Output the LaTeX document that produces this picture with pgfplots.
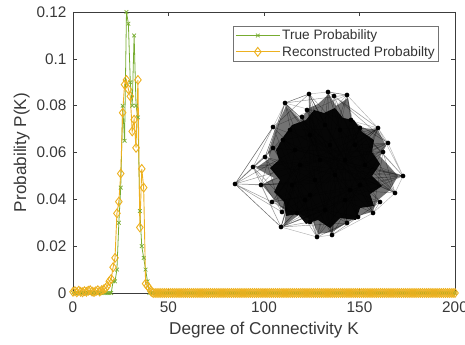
\documentclass[border=0pt]{standalone}
\usepackage{pgfplots}
\pgfplotsset{compat=1.18}
\usepackage{pgfplotstable}
\usepackage{fontspec}
\setmainfont{Liberation Sans}
\definecolor{mgreen}{RGB}{119,172,48}
\definecolor{myellow}{RGB}{237,177,32}
\definecolor{axgray}{RGB}{60,60,60}

\pgfplotstableread[row sep=\\]{
K T R\\
0 0 0.0005\\ 1 0 0.0008\\ 2 0 0.0003\\ 3 0 0.0010\\ 4 0 0.0005\\ 5 0 0.0003\\ 6 0 0.0008\\ 7 0 0.0005\\ 8 0 0.0010\\ 9 0 0.0012\\
10 0 0.0006\\ 11 0 0.0004\\ 12 0 0.0008\\ 13 0 0.0012\\ 14 0 0.0006\\ 15 0 0.0012\\ 16 0 0.0015\\ 17 0 0.0020\\ 18 0 0.0030\\ 19 0 0.0050\\
20 0 0.0060\\ 21 0.005 0.011\\ 22 0.005 0.015\\ 23 0.010 0.034\\ 24 0.030 0.039\\ 25 0.045 0.051\\ 26 0.080 0.077\\ 27 0.065 0.089\\ 28 0.120 0.091\\ 29 0.115 0.087\\
30 0.090 0.084\\ 31 0.080 0.069\\ 32 0.110 0.074\\ 33 0.080 0.062\\ 34 0.075 0.091\\ 35 0.035 0.028\\ 36 0.020 0.053\\ 37 0.015 0.045\\ 38 0.010 0.004\\ 39 0.005 0.003\\
40 0 0.002\\ 41 0 0.0005\\ 42 0 0\\ 43 0 0\\ 44 0 0\\ 45 0 0\\ 46 0 0\\ 47 0 0\\ 48 0 0\\ 49 0 0\\
50 0 0\\ 51 0 0\\ 52 0 0\\ 53 0 0\\ 54 0 0\\ 55 0 0\\ 56 0 0\\ 57 0 0\\ 58 0 0\\ 59 0 0\\
60 0 0\\ 61 0 0\\ 62 0 0\\ 63 0 0\\ 64 0 0\\ 65 0 0\\ 66 0 0\\ 67 0 0\\ 68 0 0\\ 69 0 0\\
70 0 0\\ 71 0 0\\ 72 0 0\\ 73 0 0\\ 74 0 0\\ 75 0 0\\ 76 0 0\\ 77 0 0\\ 78 0 0\\ 79 0 0\\
80 0 0\\ 81 0 0\\ 82 0 0\\ 83 0 0\\ 84 0 0\\ 85 0 0\\ 86 0 0\\ 87 0 0\\ 88 0 0\\ 89 0 0\\
90 0 0\\ 91 0 0\\ 92 0 0\\ 93 0 0\\ 94 0 0\\ 95 0 0\\ 96 0 0\\ 97 0 0\\ 98 0 0\\ 99 0 0\\
100 0 0\\ 101 0 0\\ 102 0 0\\ 103 0 0\\ 104 0 0\\ 105 0 0\\ 106 0 0\\ 107 0 0\\ 108 0 0\\ 109 0 0\\
110 0 0\\ 111 0 0\\ 112 0 0\\ 113 0 0\\ 114 0 0\\ 115 0 0\\ 116 0 0\\ 117 0 0\\ 118 0 0\\ 119 0 0\\
120 0 0\\ 121 0 0\\ 122 0 0\\ 123 0 0\\ 124 0 0\\ 125 0 0\\ 126 0 0\\ 127 0 0\\ 128 0 0\\ 129 0 0\\
130 0 0\\ 131 0 0\\ 132 0 0\\ 133 0 0\\ 134 0 0\\ 135 0 0\\ 136 0 0\\ 137 0 0\\ 138 0 0\\ 139 0 0\\
140 0 0\\ 141 0 0\\ 142 0 0\\ 143 0 0\\ 144 0 0\\ 145 0 0\\ 146 0 0\\ 147 0 0\\ 148 0 0\\ 149 0 0\\
150 0 0\\ 151 0 0\\ 152 0 0\\ 153 0 0\\ 154 0 0\\ 155 0 0\\ 156 0 0\\ 157 0 0\\ 158 0 0\\ 159 0 0\\
160 0 0\\ 161 0 0\\ 162 0 0\\ 163 0 0\\ 164 0 0\\ 165 0 0\\ 166 0 0\\ 167 0 0\\ 168 0 0\\ 169 0 0\\
170 0 0\\ 171 0 0\\ 172 0 0\\ 173 0 0\\ 174 0 0\\ 175 0 0\\ 176 0 0\\ 177 0 0\\ 178 0 0\\ 179 0 0\\
180 0 0\\ 181 0 0\\ 182 0 0\\ 183 0 0\\ 184 0 0\\ 185 0 0\\ 186 0 0\\ 187 0 0\\ 188 0 0\\ 189 0 0\\
190 0 0\\ 191 0 0\\ 192 0 0\\ 193 0 0\\ 194 0 0\\ 195 0 0\\ 196 0 0\\ 197 0 0\\ 198 0 0\\ 199 0 0\\
200 0 0\\
}\data

\begin{document}
\begin{tikzpicture}
\begin{axis}[
  scale only axis, width=382bp, height=281bp,
  at={(0,0)}, anchor=south west,
  xmin=0, xmax=200, ymin=0, ymax=0.12,
  xtick={0,50,100,150,200},
  ytick={0,0.02,0.04,0.06,0.08,0.1,0.12},
  yticklabels={0,0.02,0.04,0.06,0.08,0.1,0.12},
  scaled y ticks=false,
  /pgf/number format/assume math mode=true,
  axis line style={axgray, line width=0.6bp},
  tick style={axgray, line width=0.6bp},
  major tick length=4bp,
  tick align=inside,
  tick label style={font=\fontsize{15.4}{18}\selectfont, text=black!78},
  xticklabel style={yshift=-5bp},
  yticklabel style={xshift=-3bp},
  label style={font=\fontsize{17.2}{20}\selectfont, text=black!78},
  xlabel style={yshift=-3bp},
  xlabel={Degree of Connectivity K},
  ylabel={Probability P(K)},
  clip=false,
  legend style={at={(0.958,0.950)}, anchor=north east, draw=black!55, line width=0.5bp,
    fill=white, font=\fontsize{13.7}{16}\selectfont, text=black!80,
    inner xsep=2bp, inner ysep=1.5bp, row sep=1bp,
    /tikz/every odd column/.append style={column sep=0bp}},
  legend cell align=left,
  legend image code/.code={\draw[mark repeat=2,mark phase=2,#1] plot coordinates {(0bp,0bp) (22bp,0bp) (44bp,0bp)};},
]
\addplot[color=mgreen, line width=0.8bp, mark=x, mark size=2.6bp, mark options={line width=0.7bp}] table[x=K,y=T]{\data};
\addlegendentry{True Probability}
\addplot[color=myellow, line width=0.9bp, mark=diamond, mark size=4.4bp, mark options={line width=0.9bp}] table[x=K,y=R]{\data};
\addlegendentry{Reconstructed Probabilty}
\end{axis}

\begin{axis}[
  scale only axis, width=382bp, height=281bp,
  at={(0,0)}, anchor=south west,
  xmin=73, xmax=455, ymin=-293, ymax=-12,
  hide axis, clip=false,
]
% intermediate (line-bundle) zone of the network
\addplot[draw=none, fill=black, fill opacity=0.55] coordinates {
(268,-152)(276,-128)(286,-106)(300,-120)(309,-108)(318,-104)(329,-94)(336,-106)(348,-98)(352,-120)(362,-128)(378,-130)(386,-146)(380,-156)(398,-176)(390,-190)(378,-200)(372,-212)(358,-216)(348,-222)(332,-232)(318,-234)(312,-220)(300,-214)(284,-226)(286,-212)(278,-204)(262,-185)(274,-178)(256,-168)(270,-158)} -- cycle;
% dense core of the network
\addplot[draw=none, fill=black, fill opacity=0.95] coordinates {
(276,-150)(284,-136)(292,-125)(306,-120)(314,-110)(324,-113)(335,-108)(343,-118)(354,-120)(362,-132)(374,-140)(372,-152)(380,-164)(372,-176)(382,-186)(370,-194)(374,-206)(360,-208)(356,-220)(340,-218)(330,-228)(318,-220)(306,-224)(298,-214)(286,-216)(284,-202)(274,-192)(280,-180)(270,-168)(279,-160)} -- cycle;
% edges
\addplot[black, opacity=0.4, line width=0.45bp] coordinates {
(235,-184)(253,-167)(235,-184)(261,-185)(235,-184)(265,-157)(235,-184)(273,-148)(235,-184)(272,-202)(235,-184)(281,-227)(235,-184)(292,-185)(235,-184)(300,-165)(235,-184)(295,-150)(235,-184)(273,-127)(235,-184)(282,-212)(235,-184)(283,-140)};
\addplot[black, opacity=0.4, line width=0.45bp] coordinates {
(273,-127)(295,-150)(285,-103)(310,-135)(309,-94)(325,-125)(328,-92)(340,-130)(334,-96)(330,-145)(347,-95)(355,-145)(351,-120)(345,-160)(360,-128)(365,-165)(378,-128)(355,-145)(388,-143)(365,-165)(383,-152)(360,-185)(403,-176)(365,-165)(395,-193)(350,-190)(380,-202)(345,-200)(373,-213)(335,-175)(358,-217)(325,-210)(347,-223)(315,-180)(332,-235)(310,-195)(317,-237)(305,-200)(310,-222)(292,-185)(297,-213)(300,-165)(281,-227)(292,-185)(282,-212)(295,-150)(273,-148)(290,-130)(283,-140)(310,-135)(302,-117)(320,-160)(307,-110)(325,-125)(272,-202)(300,-165)};
\addplot[black, opacity=0.3, line width=0.45bp] coordinates {
(235,-184)(273,-127)(285,-103)(309,-94)(328,-92)(347,-95)(378,-128)(388,-143)(403,-176)(395,-193)(373,-213)(332,-235)(317,-237)(281,-227)(235,-184)(265,-157)(285,-103)(378,-128)(403,-176)(273,-127)(347,-95)(373,-213)(309,-94)(332,-235)(328,-92)(281,-227)(378,-128)(317,-237)(347,-95)(261,-185)(403,-176)(253,-167)(388,-143)(272,-202)(378,-128)};
\addplot[black, opacity=0.4, line width=0.45bp] coordinates {
(253,-167)(320,-160)(261,-185)(315,-180)(265,-157)(335,-175)(285,-103)(345,-160)(309,-94)(355,-145)(334,-96)(365,-165)(351,-120)(325,-210)(360,-128)(305,-200)(378,-128)(292,-185)(388,-143)(300,-165)(383,-152)(295,-150)(403,-176)(320,-160)(395,-193)(310,-135)(380,-202)(325,-125)(373,-213)(340,-130)(358,-217)(330,-145)(347,-223)(345,-160)(332,-235)(335,-175)(317,-237)(360,-185)(310,-222)(345,-200)(297,-213)(350,-190)(281,-227)(325,-210)(282,-212)(310,-195)(273,-148)(305,-200)(283,-140)(315,-180)(302,-117)(335,-175)(307,-110)(350,-190)(272,-202)(360,-185)};
\addplot[black, opacity=0.4, line width=0.45bp] coordinates {
(403,-176)(295,-150)(403,-176)(300,-165)(403,-176)(292,-185)(403,-176)(345,-200)(403,-176)(350,-190)(378,-128)(290,-130)(378,-128)(295,-150)(378,-128)(300,-165)(281,-227)(325,-210)(281,-227)(345,-200)(281,-227)(335,-175)(309,-94)(315,-180)(309,-94)(310,-195)(309,-94)(325,-210)(285,-103)(330,-145)(285,-103)(360,-185)(332,-235)(310,-135)(332,-235)(340,-130)(395,-193)(283,-140)(395,-193)(290,-130)};
\addplot[black, opacity=0.4, line width=0.45bp] coordinates {
(253,-167)(273,-127)(253,-167)(281,-227)(261,-185)(285,-103)(265,-157)(317,-237)(273,-127)(309,-94)(285,-103)(347,-95)(328,-92)(378,-128)(334,-96)(388,-143)(351,-120)(403,-176)(360,-128)(395,-193)(383,-152)(373,-213)(380,-202)(332,-235)(358,-217)(317,-237)(347,-223)(281,-227)(310,-222)(272,-202)(297,-213)(253,-167)(282,-212)(265,-157)};
% nodes
\addplot[only marks, mark=*, mark size=2.1bp, black] coordinates {
(235,-184)(253,-167)(261,-185)(265,-157)(273,-127)(285,-103)(309,-94)(328,-92)(334,-96)(347,-95)(351,-120)(360,-128)(378,-128)(388,-143)(383,-152)(403,-176)(395,-193)(380,-202)(373,-213)(358,-217)(347,-223)(332,-235)(317,-237)(310,-222)(297,-213)(281,-227)(282,-212)(273,-148)(283,-140)(302,-117)(307,-110)(272,-202)
(295,-150)(310,-135)(325,-125)(340,-130)(355,-145)(365,-165)(360,-185)(345,-200)(325,-210)(305,-200)(292,-185)(300,-165)(320,-160)(335,-175)(315,-180)(345,-160)(330,-145)(310,-195)(350,-190)(290,-130)};
\end{axis}
\pgfresetboundingbox
\path (-73bp,-52bp) rectangle (392bp,293bp);
\end{tikzpicture}
\end{document}
